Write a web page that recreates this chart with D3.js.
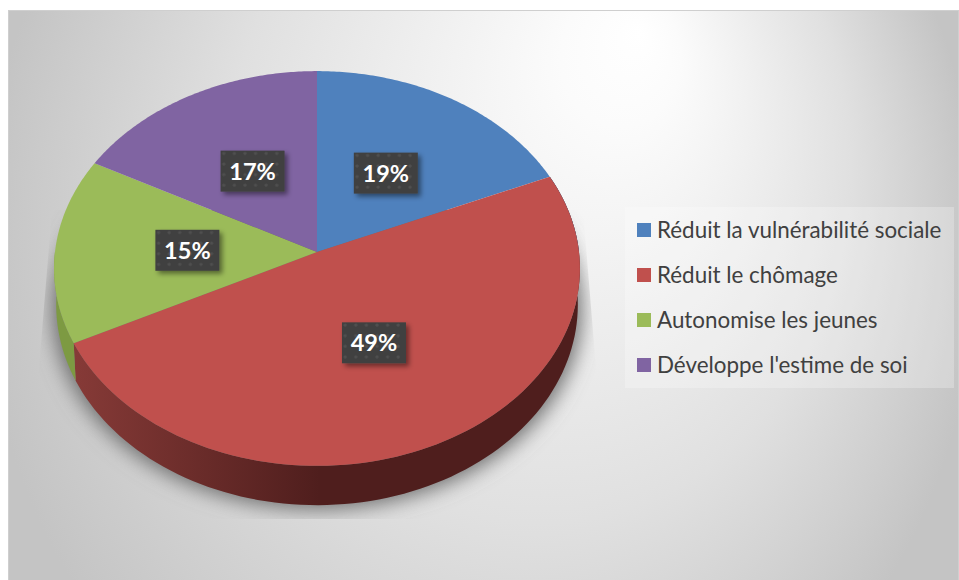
<!DOCTYPE html>
<html>
<head>
<meta charset="utf-8">
<script src="https://cdnjs.cloudflare.com/ajax/libs/d3/7.8.5/d3.min.js"></script>
<style>
html, body { margin: 0; padding: 0; background: #fff; }
svg { display: block; }
text { font-family: Lato, "Open Sans", sans-serif; }
</style>
</head>
<body>
<div id="viz"></div>
<script>
var categories = ["Réduit la vulnérabilité sociale", "Réduit le chômage", "Autonomise les jeunes", "Développe l'estime de soi"];
var values = [18.5, 49.1, 15.2, 17.2];
var colors = ["#4f81bd", "#c0504d", "#9bbb59", "#8064a2"];
var labels = ["19%", "49%", "15%", "17%"];

var width = 959, height = 580;

var svg = d3.select("#viz").append("svg")
    .attr("width", width)
    .attr("height", height);

var defs = svg.append("defs");

// background
var bg = defs.append("radialGradient")
    .attr("id", "bg")
    .attr("gradientUnits", "userSpaceOnUse")
    .attr("cx", 480).attr("cy", 250).attr("r", 500)
    .attr("fx", 640).attr("fy", 60)
    .attr("gradientTransform", "translate(0,250) scale(1,1.15) translate(0,-250)");
bg.append("stop").attr("offset", 0).attr("stop-color", "#ffffff");
bg.append("stop").attr("offset", 0.12).attr("stop-color", "#fbfbfb");
bg.append("stop").attr("offset", 0.62).attr("stop-color", "#e0e0e0");
bg.append("stop").attr("offset", 1).attr("stop-color", "#c4c4c4");

svg.append("rect")
    .attr("x", 8.5).attr("y", 10.5)
    .attr("width", 950).attr("height", 570)
    .attr("fill", "url(#bg)")
    .attr("stroke", "#cfcfcf");

defs.append("filter").attr("id", "blur")
    .attr("x", "-10%").attr("y", "-10%").attr("width", "120%").attr("height", "120%")
    .append("feGaussianBlur").attr("stdDeviation", 10);

defs.append("clipPath").attr("id", "shadowClip")
    .append("path").attr("d", "M52,210 L38,380 L38,519 L597,519 L597,380 L583,210 Z");

var wallGrad = defs.append("linearGradient")
    .attr("id", "wallRed")
    .attr("gradientUnits", "userSpaceOnUse")
    .attr("x1", 75).attr("x2", 320).attr("y1", 0).attr("y2", 0);
wallGrad.append("stop").attr("offset", 0).attr("stop-color", "#863a37");
wallGrad.append("stop").attr("offset", 1).attr("stop-color", "#4f1e1d");

var dots = defs.append("pattern")
    .attr("id", "dots")
    .attr("patternUnits", "userSpaceOnUse")
    .attr("width", 10.6).attr("height", 10.6);
dots.append("rect").attr("width", 10.6).attr("height", 10.6).attr("fill", "#404040");
dots.append("circle").attr("cx", 3).attr("cy", 3).attr("r", 1.6).attr("fill", "#505050");

defs.append("filter").attr("id", "labelShadow")
    .attr("x", "-20%").attr("y", "-20%").attr("width", "150%").attr("height", "150%")
    .append("feDropShadow")
    .attr("dx", 3).attr("dy", 3).attr("stdDeviation", 2.5)
    .attr("flood-color", "#000").attr("flood-opacity", 0.45);

// disc is a circle seen in perspective, apex stays off the ellipse centre
var cx = 317, cy = 252, A = 262, B = 196, K = 0.0835, depth = 36;

function topRim(a, t) {
    t = t === undefined ? 1 : t;
    var w = 1 + K * Math.cos(a) * t;
    return [cx + t * A * Math.sin(a) / w, cy - t * B * Math.cos(a) / w];
}
function bottomRim(a) {
    var w = 1 + K * Math.cos(a);
    return [cx + 0.992 * A * Math.sin(a) / w, cy - B * Math.cos(a) / w + depth / w];
}
function samples(a0, a1, f) {
    return d3.range(0, 101).map(function(i) { return f(a0 + (a1 - a0) * i / 100); });
}

var line = d3.line();
var pie = d3.pie().sort(null).value(function(d) { return d; });
var arcs = pie(values);

// shadow
svg.append("g").attr("clip-path", "url(#shadowClip)")
    .append("path")
    .attr("d", line(samples(0, 2 * Math.PI, function(a) {
        var p = bottomRim(a);
        return [cx + (p[0] - cx) * 1.015, p[1] + 4];
    })) + "Z")
    .attr("fill", "#6e6e6e")
    .attr("filter", "url(#blur)");

// side wall, only the part that faces us
var walls = svg.append("g");
var wallStops = [
    {a0: arcs[1].startAngle, a1: arcs[1].endAngle, fill: "url(#wallRed)"},
    {a0: arcs[2].startAngle, a1: 1.5 * Math.PI, fill: "#7d9a42"},
    {a0: 0.5 * Math.PI, a1: arcs[0].endAngle, fill: "#3a5c85"}
];
wallStops.forEach(function(w) {
    walls.append("path")
        .attr("d", line(samples(w.a0, w.a1, function(a) { return topRim(a); })
            .concat(samples(w.a1, w.a0, bottomRim))) + "Z")
        .attr("fill", w.fill);
});

// top face
svg.append("g").selectAll("path")
    .data(arcs)
    .enter().append("path")
    .attr("d", function(d) {
        return line([[cx, cy]].concat(samples(d.startAngle, d.endAngle, function(a) { return topRim(a); }))) + "Z";
    })
    .attr("fill", function(d, i) { return colors[i]; });

// data labels, all about halfway along the radius
var lab = svg.append("g").selectAll("g")
    .data(arcs)
    .enter().append("g")
    .attr("transform", function(d) {
        var p = topRim((d.startAngle + d.endAngle) / 2, 0.495);
        return "translate(" + p[0] + "," + p[1] + ")";
    });
lab.append("rect")
    .attr("x", -32).attr("y", -21)
    .attr("width", 64).attr("height", 41)
    .attr("fill", "url(#dots)")
    .attr("filter", "url(#labelShadow)");
lab.append("text")
    .attr("text-anchor", "middle")
    .attr("y", 8)
    .attr("font-size", 23.5)
    .attr("font-weight", 700)
    .attr("fill", "#fff")
    .text(function(d, i) { return labels[i]; });

// legend
svg.append("rect")
    .attr("x", 625).attr("y", 207)
    .attr("width", 329).attr("height", 181)
    .attr("fill", "#fff").attr("fill-opacity", 0.25);

var legendY = d3.scalePoint().domain(categories).range([230, 365]);
var legend = svg.append("g").selectAll("g")
    .data(categories)
    .enter().append("g")
    .attr("transform", function(d) { return "translate(637," + legendY(d) + ")"; });
legend.append("rect")
    .attr("y", -7).attr("width", 14).attr("height", 14)
    .attr("fill", function(d, i) { return colors[i]; });
legend.append("text")
    .attr("x", 20).attr("y", 8)
    .attr("font-size", 22.4)
    .attr("fill", "#404040")
    .text(function(d) { return d; });
</script>
</body>
</html>
